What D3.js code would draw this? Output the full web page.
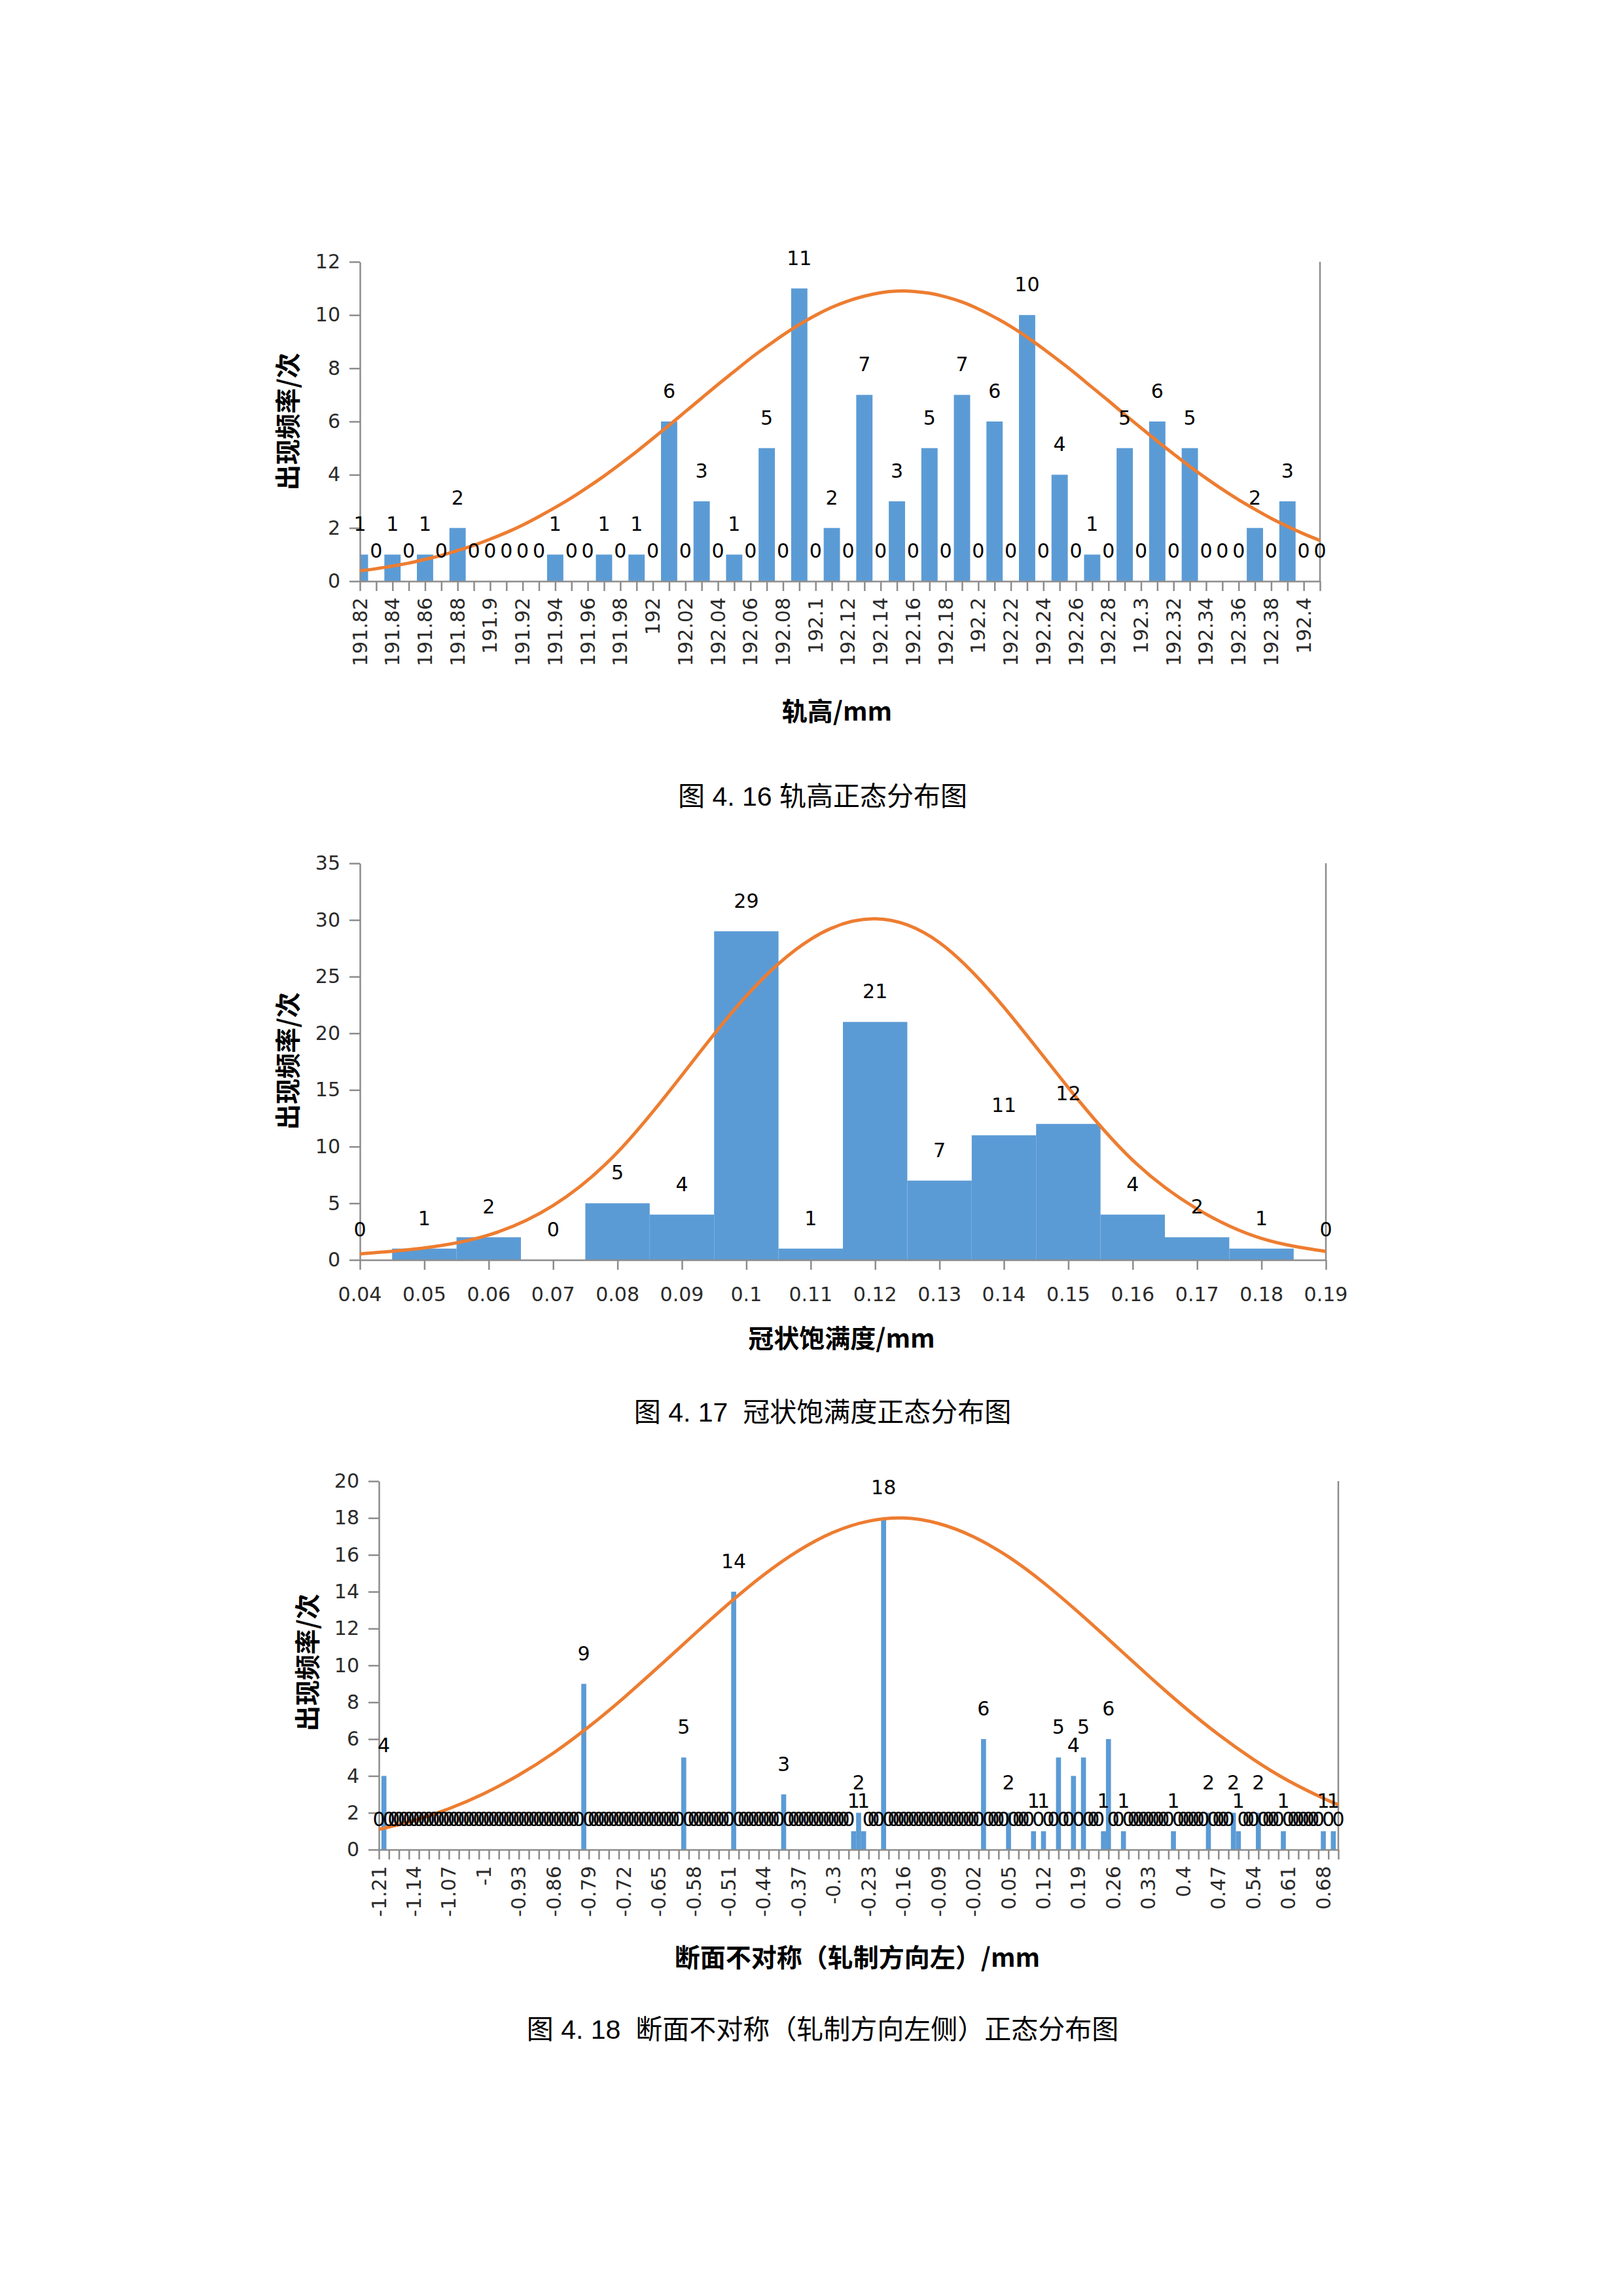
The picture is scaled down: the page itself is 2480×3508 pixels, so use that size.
<!DOCTYPE html>
<html lang="zh">
<head>
<meta charset="UTF-8">
<title>轨高 / 冠状饱满度 / 断面不对称 正态分布图</title>
<script src="https://d3js.org/d3.v7.min.js"></script>
<style>
  body { margin: 0; background: #fff; }
  svg { display: block; }
  .tick-label { font-family: "DejaVu Sans", sans-serif; font-size: 30px; fill: #2b2b2b; }
  .data-label { font-family: "DejaVu Sans", sans-serif; font-size: 30px; fill: #000; }
  .axis-title { font-family: "Noto Sans CJK SC", sans-serif; font-weight: 700; font-size: 39px; fill: #000; }
  .caption { font-family: "Liberation Sans", "Noto Sans CJK SC", sans-serif; font-size: 41px; fill: #000; white-space: pre; }
</style>
</head>
<body>
<svg id="page" width="2480" height="3508"></svg>
<script>
// ---- 图4.16 轨高 (191.82 ~ 192.41, 每0.01一档)
const railKeys = d3.range(19182, 19242);
const railCounts = [1,0,1,0,1,0,2,0,0,0,0,0,1,0,0,1,0,1,0,6,0,3,0,1,0,5,0,11,0,2,
                    0,7,0,3,0,5,0,7,0,6,0,10,0,4,0,1,0,5,0,6,0,5,0,0,0,2,0,3,0,0];
const railCurve = [0.39,0.47,0.57,0.68,0.82,0.97,1.15,1.35,1.58,1.83,
                   2.11,2.43,2.77,3.13,3.53,3.95,4.40,4.87,5.36,5.86,
                   6.37,6.88,7.39,7.88,8.37,8.82,9.25,9.64,9.99,10.29,
                   10.53,10.71,10.84,10.90,10.89,10.82,10.68,10.49,10.23,9.92,
                   9.57,9.17,8.73,8.27,7.79,7.28,6.78,6.26,5.76,5.26,
                   4.78,4.31,3.87,3.45,3.06,2.70,2.36,2.06,1.78,1.53];
const railTickLabels = ["191.82","191.84","191.86","191.88","191.9","191.92","191.94","191.96","191.98","192",
                        "192.02","192.04","192.06","192.08","192.1","192.12","192.14","192.16","192.18","192.2",
                        "192.22","192.24","192.26","192.28","192.3","192.32","192.34","192.36","192.38","192.4"];
const railYTicks = [0,2,4,6,8,10,12];

// ---- 图4.17 冠状饱满度 (0.04 ~ 0.19)
const crownKeys = d3.range(4, 20);
const crownCounts = [0,1,2,0,5,4,29,1,21,7,11,12,4,2,1,0];
const crownCurve = [0.54,1.06,2.2,4.8,9.5,16.3,23.3,28.3,30.1,28.0,22.3,15.2,8.8,4.5,1.9,0.75];
const crownTickLabels = ["0.04","0.05","0.06","0.07","0.08","0.09","0.1","0.11",
                         "0.12","0.13","0.14","0.15","0.16","0.17","0.18","0.19"];
const crownYTicks = [0,5,10,15,20,25,30,35];

// ---- 图4.18 断面不对称 (-1.21 ~ 0.71), 其余各档为0
const asymKeys = d3.range(-121, 72);
const asymNonZero = [[-1.20,4],[-0.80,9],[-0.60,5],[-0.50,14],[-0.40,3],[-0.26,1],[-0.25,2],[-0.24,1],
                     [-0.20,18],[0.00,6],[0.05,2],[0.10,1],[0.12,1],[0.15,5],[0.18,4],[0.20,5],
                     [0.24,1],[0.25,6],[0.28,1],[0.38,1],[0.45,2],[0.50,2],[0.51,1],[0.55,2],
                     [0.60,1],[0.68,1],[0.70,1]];
const asymCurve = [[-1.21,1.10],[-1.14,1.58],[-1.07,2.22],[-1,3.04],[-0.93,4.05],[-0.86,5.26],
                   [-0.79,6.67],[-0.72,8.24],[-0.65,9.93],[-0.58,11.66],[-0.51,13.35],[-0.44,14.91],
                   [-0.37,16.23],[-0.3,17.23],[-0.23,17.83],[-0.16,18.0],[-0.09,17.70],[-0.02,16.98],
                   [0.05,15.89],[0.12,14.49],[0.19,12.88],[0.26,11.17],[0.33,9.44],[0.4,7.78],
                   [0.47,6.25],[0.54,4.90],[0.61,3.74],[0.68,2.79],[0.71,2.44]];
const asymTickLabels = ["-1.21","-1.14","-1.07","-1","-0.93","-0.86","-0.79","-0.72","-0.65","-0.58",
                        "-0.51","-0.44","-0.37","-0.3","-0.23","-0.16","-0.09","-0.02","0.05","0.12",
                        "0.19","0.26","0.33","0.4","0.47","0.54","0.61","0.68"];
const asymYTicks = [0,2,4,6,8,10,12,14,16,18,20];

const toKey = v => Math.round(parseFloat(v) * 100);
const asymMap = new Map(asymNonZero.map(d => [toKey(d[0]), d[1]]));
const asymCounts = asymKeys.map(k => asymMap.get(k) || 0);

const svg = d3.select("#page");
svg.append("rect").attr("width", 2480).attr("height", 3508).attr("fill", "#fff");

const AXIS = "#8c8c8c";

function drawChart(c) {
  const g = svg.append("g");
  const x = d3.scalePoint().domain(c.keys).range([c.left, c.right]);
  const y = d3.scaleLinear().domain([0, c.yMax]).range([c.bottom, c.top]);
  const step = x.step();
  const rows = c.keys.map((k, i) => ({ k, v: c.counts[i] }));

  // 柱
  g.append("clipPath").attr("id", "clip-" + c.id).append("rect")
    .attr("x", c.left).attr("y", c.top - 80)
    .attr("width", c.right - c.left).attr("height", c.bottom - c.top + 80);
  g.append("g").attr("clip-path", `url(#clip-${c.id})`)
    .selectAll("rect").data(rows.filter(d => d.v > 0)).join("rect")
    .attr("x", d => x(d.k) - step / 2)
    .attr("width", step)
    .attr("y", d => y(d.v))
    .attr("height", d => y(0) - y(d.v))
    .attr("fill", "#5B9BD5");

  // 坐标轴
  const ya = g.append("g").attr("transform", `translate(${c.left},0)`)
    .call(d3.axisLeft(y).tickValues(c.yTicks).tickSize(16).tickPadding(14).tickSizeOuter(0));
  ya.selectAll("text").attr("class", "tick-label");

  g.append("g").attr("transform", `translate(0,${c.bottom})`)
    .call(d3.axisBottom(x).tickValues(c.tickKeys).tickSize(15).tickSizeOuter(0).tickFormat(""));

  g.append("line")
    .attr("x1", c.right).attr("x2", c.right)
    .attr("y1", y(c.yMax)).attr("y2", y(0));

  g.selectAll("path.domain, .tick line, line")
    .attr("stroke", AXIS).attr("stroke-width", 2.5);

  // x 刻度标签
  const xl = g.append("g").selectAll("text").data(c.xLabels).join("text")
    .attr("class", "tick-label")
    .text(d => d);
  if (c.rotate) {
    xl.attr("transform", d => `translate(${x(toKey(d))},${c.bottom + 25}) rotate(-90)`)
      .attr("text-anchor", "end").attr("dy", "0.35em");
  } else {
    xl.attr("x", d => x(toKey(d))).attr("y", c.bottom + 63).attr("text-anchor", "middle");
  }

  // 正态曲线
  g.append("path")
    .datum(c.curve)
    .attr("fill", "none")
    .attr("stroke", "#ED7D31")
    .attr("stroke-width", 5)
    .attr("d", d3.line().x(d => x(d[0])).y(d => y(d[1])).curve(d3.curveNatural));

  // 数据标签
  g.append("g").selectAll("text").data(rows).join("text")
    .attr("class", "data-label")
    .attr("x", d => x(d.k))
    .attr("y", d => y(d.v) - 36)
    .attr("text-anchor", "middle")
    .text(d => d.v);

  // 标题
  g.append("text").attr("class", "axis-title")
    .attr("transform", `translate(${c.yTitlePos[0]},${c.yTitlePos[1]}) rotate(-90)`)
    .attr("text-anchor", "middle").attr("dominant-baseline", "central")
    .text("出现频率/次");
  g.append("text").attr("class", "axis-title")
    .attr("x", c.xTitlePos[0]).attr("y", c.xTitlePos[1])
    .attr("text-anchor", "middle").attr("dominant-baseline", "central")
    .text(c.xTitle);
  g.append("text").attr("class", "caption")
    .attr("x", c.captionPos[0]).attr("y", c.captionPos[1])
    .attr("text-anchor", "middle").attr("dominant-baseline", "central")
    .text(c.caption);
}

drawChart({
  id: "rail", keys: railKeys, counts: railCounts,
  curve: railKeys.map((k, i) => [k, railCurve[i]]),
  left: 550, right: 2017, top: 400, bottom: 888, yMax: 12, yTicks: railYTicks,
  tickKeys: railKeys, xLabels: railTickLabels, rotate: true,
  xTitle: "轨高/mm", xTitlePos: [1279, 1084], yTitlePos: [437, 644],
  caption: "图 4. 16 轨高正态分布图", captionPos: [1257, 1217]
});

drawChart({
  id: "crown", keys: crownKeys, counts: crownCounts,
  curve: crownKeys.map((k, i) => [k, crownCurve[i]]),
  left: 550, right: 2026, top: 1319, bottom: 1925, yMax: 35, yTicks: crownYTicks,
  tickKeys: crownKeys, xLabels: crownTickLabels, rotate: false,
  xTitle: "冠状饱满度/mm", xTitlePos: [1286, 2042], yTitlePos: [437, 1621],
  caption: "图 4. 17  冠状饱满度正态分布图", captionPos: [1257, 2158]
});

drawChart({
  id: "asym", keys: asymKeys, counts: asymCounts,
  curve: asymCurve.map(d => [toKey(d[0]), d[1]]),
  left: 579, right: 2045, top: 2263, bottom: 2826, yMax: 20, yTicks: asymYTicks,
  tickKeys: asymKeys.filter(k => (k + 121) % 2 === 0), xLabels: asymTickLabels, rotate: true,
  xTitle: "断面不对称（轧制方向左）/mm", xTitlePos: [1310, 2988], yTitlePos: [467, 2540],
  caption: "图 4. 18  断面不对称（轧制方向左侧）正态分布图", captionPos: [1257, 3101]
});
</script>
</body>
</html>
